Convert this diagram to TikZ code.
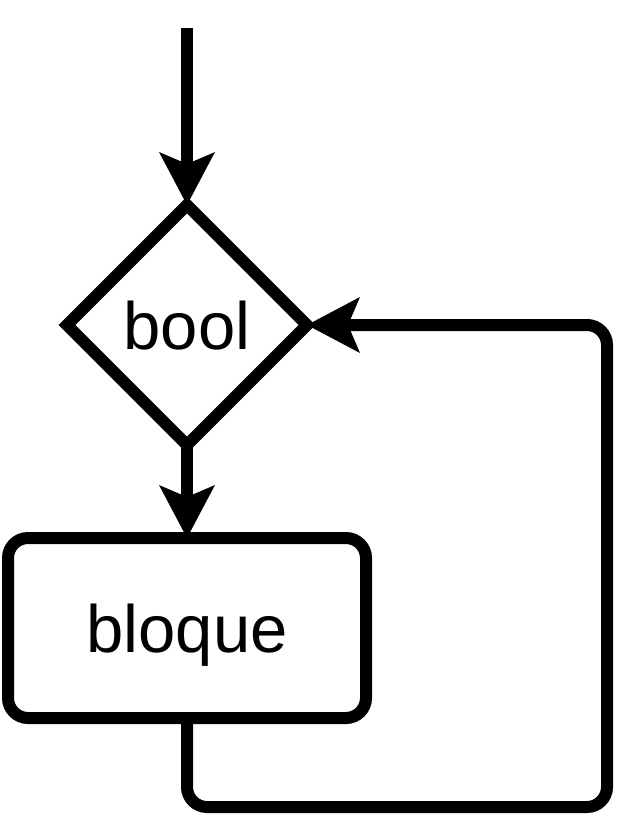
\documentclass[tikz,border=0pt]{standalone}
\usepackage{fontspec}
\setmainfont{Liberation Sans}
\usetikzlibrary{shapes.geometric,arrows.meta}
\begin{document}
\begin{tikzpicture}[x=1pt,y=1pt,
  lw/.style={line width=12pt},
  tip/.style={-{Stealth[length=53pt,width=56pt,inset=12pt,line width=0pt]}},
  txt/.style={font=\fontsize{67}{70}\selectfont,text depth=0pt},
  dia/.style={diamond,draw,lw,aspect=1,minimum width=240pt,minimum height=240pt,inner sep=0pt,outer sep=0pt,txt},
  blk/.style={rectangle,draw,lw,rounded corners=20pt,minimum width=358pt,minimum height=180pt,inner sep=0pt,outer sep=0pt,txt}]
\useasboundingbox (0,0) rectangle (636,-837);
\coordinate (top) at (187,-28);
\node[dia] (d) at (187,-325) {bool};
\node[blk] (b) at (187,-628) {bloque};
\coordinate (c) at (607,-807);
\draw[lw,tip] (top) -- (d.north);
\draw[lw,tip] (d.south) -- (b.north);
\draw[lw,tip,rounded corners=20pt] (b.south) |- (c) |- (d.east);
\end{tikzpicture}
\end{document}
